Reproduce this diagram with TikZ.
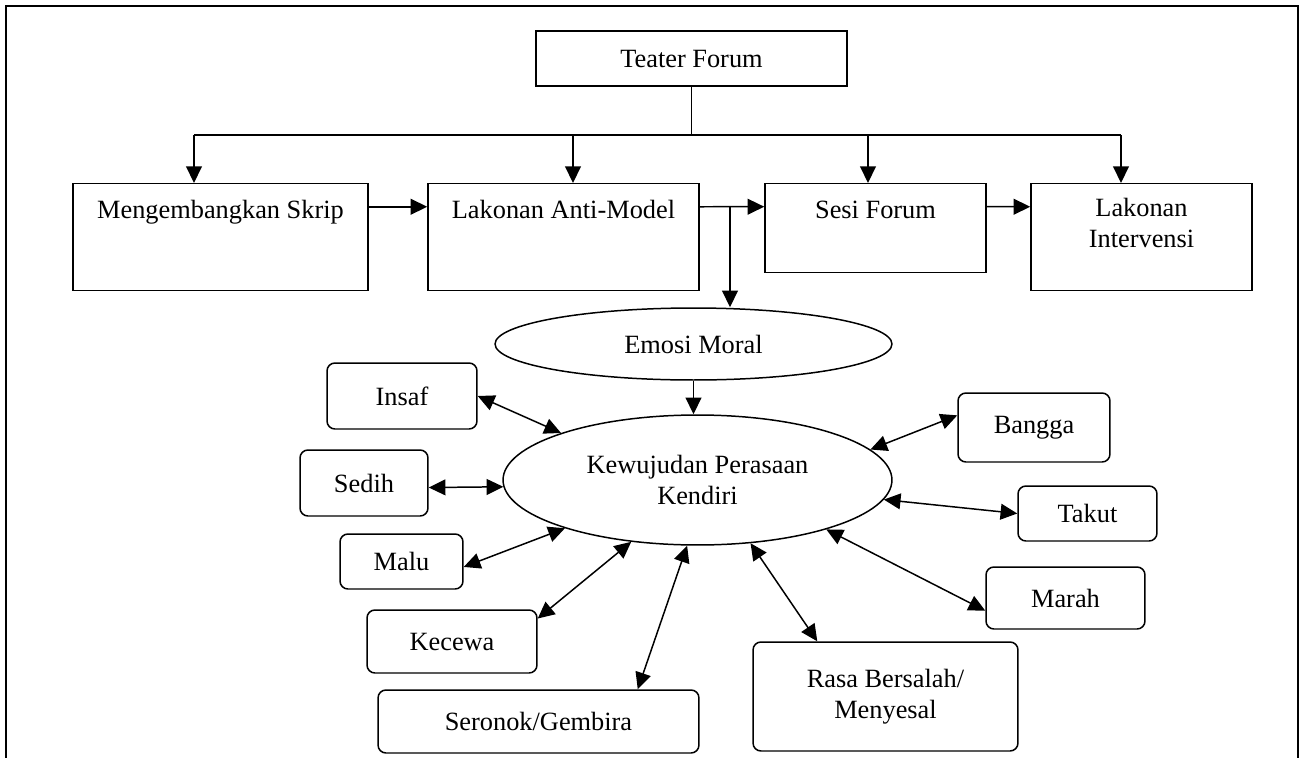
\documentclass[tikz,border=0pt]{standalone}
\usepackage{fontspec}
\setmainfont{Liberation Serif}
\usetikzlibrary{arrows.meta,shapes.geometric}

\begin{document}
\begin{tikzpicture}[x=0.02cm, y=-0.02cm, line width=0.85pt,
    every node/.style={font=\fontsize{15}{17.5}\selectfont, inner sep=0pt},
    stagebox/.style={draw=black, rectangle, align=center},
    toptext/.style={anchor=north, text height=19.9pt, text depth=#1},
    feeling/.style={draw=black, rounded corners=4.5pt, align=center},
    oval/.style={draw=black, ellipse, align=center},
    arr/.style={-{Triangle[length=9.5pt, width=9pt]}},
    biarr/.style={{Triangle[length=9.5pt, width=9pt]}-{Triangle[length=9.5pt, width=9pt]}}]
    \useasboundingbox (0, 0) rectangle (1303, 758);
    \draw [line width=1.2pt] (6, 758) -- (6, 6) -- (1298, 6) -- (1298, 758);

    \draw (691.5, 58.5) node
          [stagebox, minimum width=6.22cm, minimum height=1.1cm] (teater)
          {Teater Forum};

    \draw (220.5, 183) node
          [stagebox, toptext=41pt, minimum width=5.9cm] (skrip)
          {Mengembangkan Skrip};
    \draw (563.5, 183) node
          [stagebox, toptext=41pt, minimum width=5.42cm] (model)
          {Lakonan Anti-Model};
    \draw (875.5, 183) node
          [stagebox, toptext=30.7pt, minimum width=4.42cm] (sesi)
          {Sesi Forum};
    \draw (1141.5, 183) node
          [stagebox, toptext=24.5pt, text height=36.4pt, minimum width=4.42cm] (interv)
          {Lakonan\\Intervensi};

    \coordinate (bus) at (687, 135);
    \coordinate (t1) at (194, 135);
    \coordinate (t2) at (573, 135);
    \coordinate (t3) at (868, 135);
    \coordinate (t4) at (1121, 135);
    \coordinate (split) at (730, 206);

    \draw (teater.south) -- (teater.south |- bus);
    \draw (t1) -- (t4);
    \draw [arr] (t1) -- (t1 |- skrip.north);
    \draw [arr] (t2) -- (t2 |- model.north);
    \draw [arr] (t3) -- (t3 |- sesi.north);
    \draw [arr] (t4) -- (t4 |- interv.north);
    \draw [arr] ([yshift=0.61cm] skrip.east) -- ([yshift=0.61cm] model.west);
    \draw [arr] ([yshift=0.61cm] model.east) -- ([yshift=0.43cm] sesi.west);
    \draw [arr] ([yshift=0.43cm] sesi.east) -- ([yshift=0.61cm] interv.west);

    \draw (693.5, 344) node
          [oval, minimum width=7.94cm, minimum height=1.44cm] (emosi)
          {Emosi Moral};
    \draw (697.5, 480) node
          [oval, minimum width=7.78cm, minimum height=2.6cm] (feel)
          {Kewujudan Perasaan\\Kendiri};
    \draw [arr] (split) -- (split |- emosi.north);
    \draw [arr] (emosi.south) -- (emosi.south |- feel.north);

    \draw (402, 396) node
          [feeling, minimum width=3cm, minimum height=1.32cm] (insaf)
          {Insaf};
    \draw (364, 483) node
          [feeling, minimum width=2.56cm, minimum height=1.32cm] (sedih)
          {Sedih};
    \draw (401.5, 561.5) node
          [feeling, minimum width=2.46cm, minimum height=1.1cm] (malu)
          {Malu};
    \draw (452, 641.5) node
          [feeling, minimum width=3.4cm, minimum height=1.26cm] (kecewa)
          {Kecewa};
    \draw (538.5, 721.5) node
          [feeling, minimum width=6.42cm, minimum height=1.26cm] (seronok)
          {Seronok/Gembira};
    \draw (1034, 427.5) node
          [feeling, minimum width=3.04cm, minimum height=1.38cm] (bangga)
          {Bangga};
    \draw (1087.5, 513.5) node
          [feeling, minimum width=2.78cm, minimum height=1.1cm] (takut)
          {Takut};
    \draw (1065.5, 598) node
          [feeling, minimum width=3.18cm, minimum height=1.24cm] (marah)
          {Marah};
    \draw (885.5, 696.5) node
          [feeling, minimum width=5.3cm, minimum height=2.18cm] (rasa)
          {Rasa Bersalah/\\Menyesal};

    \draw [biarr] (insaf.east) -- (feel.161);
    \draw [biarr] (sedih.356) -- (feel.182);
    \draw [biarr] (malu.355) -- (feel.200);
    \draw [biarr] (kecewa.15) -- (feel.223);
    \draw [biarr] (seronok.18) -- (feel.261);
    \draw [biarr] (rasa.141) -- (feel.310);
    \draw [biarr] (marah.189) -- (feel.339);
    \draw [biarr] (takut.west) -- (feel.354);
    \draw [biarr] (bangga.171) -- (feel.10);
\end{tikzpicture}
\end{document}
